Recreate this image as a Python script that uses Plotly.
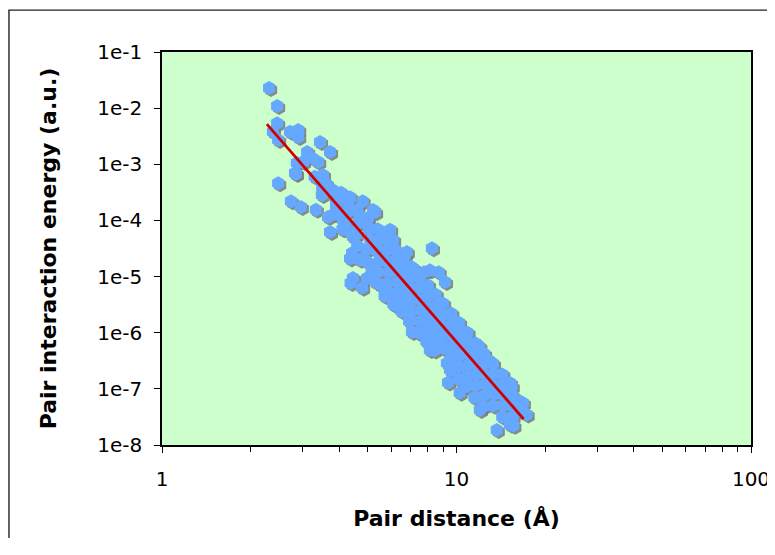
import plotly.graph_objects as go

# --- data ---
distance = [
    2.31, 2.46, 2.46, 2.38, 2.48, 2.72, 2.90, 2.90, 3.44, 3.72, 3.11, 3.23, 3.39, 2.87, 3.01,
    2.83, 3.52, 2.48, 2.85, 2.74, 2.96, 3.33, 3.49, 3.66, 3.72, 4.06, 4.35, 4.80, 5.21, 5.29,
    4.12, 4.45, 4.97, 5.63, 5.95, 6.09, 4.42, 4.70, 5.50, 4.35, 4.45, 4.37, 4.78, 4.97, 5.50,
    5.85, 6.19, 5.36, 6.78, 6.67, 8.25, 7.12, 8.12, 7.75, 8.70, 9.14, 7.51, 6.95, 7.93, 8.78,
    7.06, 8.12, 9.28, 9.36, 10.25, 10.8, 11.95, 12.9, 9.50, 12.0, 13.7, 15.2, 15.6, 17.3, 16.8,
    15.2, 12.9,
    3.50, 3.30, 3.60, 3.90, 4.00, 4.20, 4.30, 4.10,
    3.80, 3.90, 3.85, 4.20, 4.25, 4.15, 4.30,
    4.60, 4.65, 4.55, 4.70, 4.60,
    5.00, 5.05, 5.10, 4.95, 5.00, 5.15,
    5.40, 5.45, 5.35, 5.50, 5.40, 5.30,
    5.80, 5.85, 5.75, 5.90, 5.80, 5.70,
    6.20, 6.25, 6.15, 6.30, 6.20, 6.10,
    6.60, 6.65, 6.55, 6.70, 6.60, 6.50,
    7.00, 7.05, 6.95, 7.10, 7.00, 6.90,
    7.50, 7.55, 7.45, 7.60, 7.50, 7.40,
    8.00, 8.05, 7.95, 8.10, 8.00, 7.90,
    8.50, 8.55, 8.45, 8.60, 8.50, 8.40,
    9.00, 9.05, 8.95, 9.10, 9.00,
    9.60, 9.65, 9.55, 9.70, 9.60, 9.50,
    10.2, 10.25, 10.15, 10.3, 10.2, 10.1,
    10.9, 10.95, 10.85, 11.0, 10.9, 10.8,
    11.6, 11.65, 11.55, 11.7, 11.6, 11.5,
    12.4, 12.45, 12.35, 12.5, 12.4, 12.3,
    13.3, 13.35, 13.25, 13.4, 13.3,
    14.3, 14.35, 14.25, 14.4, 14.3,
    15.4, 15.45, 15.35, 15.5,
    16.4, 16.5,
]
energy = [
    2.29e-2, 1.09e-2, 5.4e-3, 3.8e-3, 2.7e-3, 3.8e-3, 4.1e-3, 3.06e-3, 2.5e-3, 1.66e-3, 1.66e-3, 1.29e-3, 1.1e-3, 1.05e-3, 1.1e-3,
    7.0e-4, 6.45e-4, 4.6e-4, 6.7e-4, 2.2e-4, 1.73e-4, 1.55e-4, 2.84e-4, 1.15e-4, 6.2e-5, 3.1e-4, 2.6e-4, 2.2e-4, 1.53e-4, 1.4e-4,
    1.02e-4, 5.1e-5, 9.0e-5, 6.0e-5, 6.8e-5, 4.5e-5, 2.63e-5, 2.0e-5, 2.2e-5, 2.1e-5, 9.4e-6, 7.7e-6, 6.3e-6, 9.4e-6, 7.1e-6,
    5.1e-6, 3.1e-6, 3.6e-5, 2.75e-5, 2.4e-5, 3.2e-5, 1.4e-5, 1.3e-5, 1.2e-5, 1.2e-5, 8.0e-6, 6.3e-6, 2.3e-6, 1.8e-6, 1.37e-6,
    1.03e-6, 4.9e-7, 2.9e-7, 1.3e-7, 8.5e-8, 1.0e-6, 5.6e-7, 3.2e-7, 2.9e-7, 4.2e-8, 1.85e-8, 2.3e-8, 2.2e-8, 3.5e-8, 5.6e-8,
    1.27e-7, 9.5e-8,
    3.9e-4, 6.0e-4, 4.5e-4, 1.7e-4, 1.3e-4, 9.0e-5, 6.5e-5, 7.0e-5,
    3.5e-4, 2.2e-4, 1.3e-4, 2.4e-4, 1.4e-4, 8.0e-5, 1.8e-4,
    1.5e-4, 9.0e-5, 5.5e-5, 1.2e-4, 3.5e-5,
    1.1e-4, 7.0e-5, 4.5e-5, 3.0e-5, 1.8e-5, 1.3e-5,
    7.0e-5, 4.5e-5, 2.9e-5, 1.9e-5, 1.2e-5, 8.0e-6,
    4.5e-5, 3.0e-5, 1.9e-5, 1.2e-5, 7.5e-6, 4.5e-6,
    3.0e-5, 2.0e-5, 1.3e-5, 8.0e-6, 5.0e-6, 3.2e-6,
    2.2e-5, 1.4e-5, 9.0e-6, 5.5e-6, 3.5e-6, 2.4e-6,
    1.5e-5, 9.5e-6, 6.0e-6, 3.8e-6, 2.4e-6, 1.6e-6,
    1.0e-5, 6.5e-6, 4.0e-6, 2.5e-6, 1.6e-6, 1.0e-6,
    7.0e-6, 4.5e-6, 2.8e-6, 1.7e-6, 1.1e-6, 7.0e-7,
    4.8e-6, 3.0e-6, 1.9e-6, 1.2e-6, 7.5e-7, 4.8e-7,
    3.3e-6, 2.1e-6, 1.3e-6, 8.5e-7, 5.3e-7,
    2.2e-6, 1.4e-6, 9.0e-7, 5.7e-7, 3.6e-7, 2.2e-7,
    1.5e-6, 1.0e-6, 6.3e-7, 4.0e-7, 2.5e-7, 1.5e-7,
    1.0e-6, 6.8e-7, 4.3e-7, 2.7e-7, 1.7e-7, 1.1e-7,
    6.5e-7, 4.5e-7, 2.9e-7, 1.8e-7, 1.15e-7, 7.0e-8,
    4.2e-7, 2.9e-7, 1.9e-7, 1.2e-7, 7.5e-8, 4.8e-8,
    2.8e-7, 1.9e-7, 1.25e-7, 8.0e-8, 5.0e-8,
    1.8e-7, 1.2e-7, 8.0e-8, 5.0e-8, 3.2e-8,
    1.1e-7, 7.5e-8, 5.0e-8, 3.2e-8,
    6.0e-8, 4.0e-8,
]
fit_distance = [2.27, 16.9]
fit_energy = [5.2e-3, 2.9e-8]

y_tick_values = [1e-1, 1e-2, 1e-3, 1e-4, 1e-5, 1e-6, 1e-7, 1e-8]
y_tick_labels = ["1e-1", "1e-2", "1e-3", "1e-4", "1e-5", "1e-6", "1e-7", "1e-8"]
x_tick_values = [1, 10, 100]
x_tick_labels = ["1", "10", "100"]
x_minor_values = [2, 3, 4, 5, 6, 7, 8, 9, 20, 30, 40, 50, 60, 70, 80, 90]

# drop-shadow offset (multiplicative in log space, about 2 px)
sx = 10 ** (2 / 294.5)
sy = 10 ** (-2 / 56.1)

FONT = "DejaVu Sans"

fig = go.Figure()
fig.add_trace(go.Scatter(
    x=[v * sx for v in distance], y=[v * sy for v in energy], mode="markers",
    marker=dict(symbol="hexagon", size=14, color="rgba(120,120,120,0.85)", line=dict(width=0)),
    hoverinfo="skip", showlegend=False,
))
fig.add_trace(go.Scatter(
    x=distance, y=energy, mode="markers",
    marker=dict(symbol="hexagon", size=14, color="#66A8FF", line=dict(width=0)),
    showlegend=False,
))
fig.add_trace(go.Scatter(
    x=fit_distance, y=fit_energy, mode="lines",
    line=dict(color="#D00000", width=2.8), showlegend=False,
))

fig.update_layout(
    width=767, height=530,
    margin=dict(l=154, r=24, t=44, b=93, autoexpand=False),
    paper_bgcolor="white", plot_bgcolor="#CCFFCC",
    font=dict(family=FONT, color="black"),
    shapes=[dict(type="rect", xref="paper", yref="paper",
                 x0=-0.2598, x1=1.2, y0=-0.4, y1=1.1065,
                 line=dict(color="#222222", width=1.4), layer="below")],
)
fig.update_xaxes(
    type="log", range=[0, 2], showgrid=False, zeroline=False, automargin=False,
    showline=True, linecolor="black", linewidth=1.5, mirror=True,
    ticks="outside", ticklen=6, tickcolor="black", tickwidth=1,
    tickmode="array", tickvals=x_tick_values, ticktext=x_tick_labels,
    tickfont=dict(size=20, family=FONT), ticklabelstandoff=9, ticklabeloverflow="allow",
    minor=dict(ticks="outside", ticklen=5, tickcolor="black", tickwidth=1,
               tickmode="array", tickvals=x_minor_values, showgrid=False),
    title=dict(text="Pair distance (Å)", font=dict(size=22, family=FONT, weight="bold"), standoff=21),
)
fig.update_yaxes(
    type="log", range=[-8, -1], showgrid=False, zeroline=False, automargin=False,
    showline=True, linecolor="black", linewidth=1.5, mirror=True,
    ticks="outside", ticklen=6, tickcolor="black", tickwidth=1,
    tickmode="array", tickvals=y_tick_values, ticktext=y_tick_labels,
    tickfont=dict(size=20, family=FONT), ticklabelstandoff=8, ticklabeloverflow="allow",
    title=dict(text="Pair interaction energy (a.u.)", font=dict(size=22, family=FONT, weight="bold"), standoff=35),
)

fig.write_html("out.html")
